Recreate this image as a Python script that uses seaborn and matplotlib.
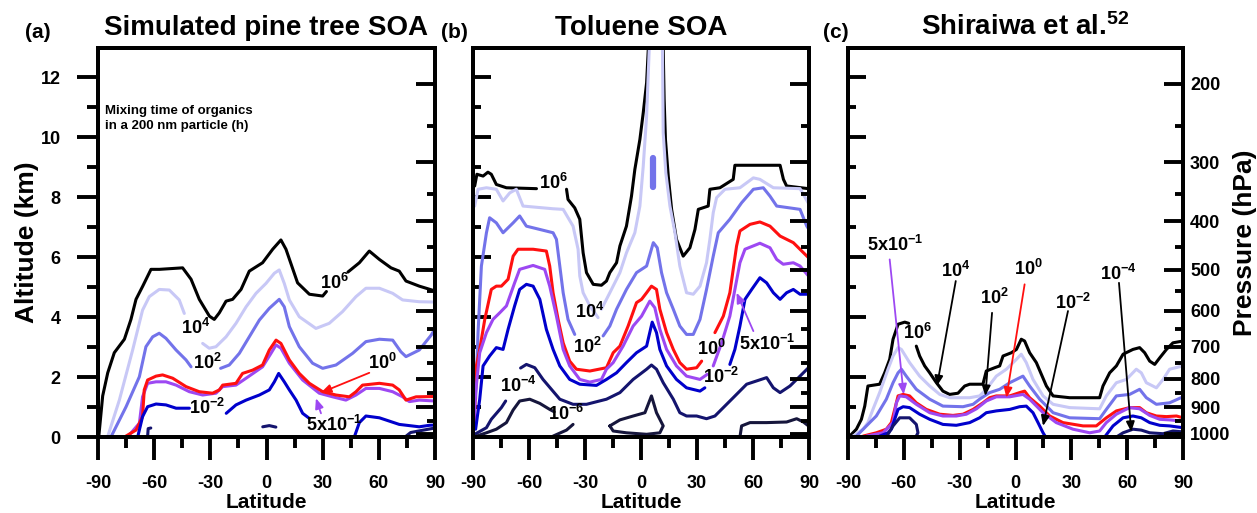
import numpy as np
import pandas as pd
import matplotlib
matplotlib.use("Agg")
import matplotlib.pyplot as plt
import seaborn as sns

# ---------------- data (latitude, altitude km) ----------------
LAT_TICKS = [-90, -60, -30, 0, 30, 60, 90]
LAT_MINOR = [-75, -45, -15, 15, 45, 75]
ALT_TICKS = [0, 2, 4, 6, 8, 10, 12]
ALT_MINOR = [1, 3, 5, 7, 9, 11]
P_MAJOR = [200, 300, 400, 500, 600, 700, 800, 900, 1000]
P_MINOR = [250, 350, 450, 550, 650, 750, 850, 950]

# Panel (a) Simulated pine tree SOA
A_E6 = [[(-89.6, 0), (-87.5, 1.37), (-84.8, 2.14), (-81.3, 2.81), (-75.9, 3.26), (-72.4, 3.92), (-69.7, 4.59),
         (-66.1, 5.03), (-61.7, 5.59), (-57.2, 5.59), (-44.8, 5.64), (-40.3, 5.26), (-35.9, 4.59), (-30.5, 4.03),
         (-27.9, 3.92), (-25.2, 4.14), (-21.6, 4.53), (-18.1, 4.59), (-13.6, 4.92), (-9.2, 5.53), (-2.1, 5.81),
         (3.3, 6.26), (7.7, 6.57), (10.4, 6.26), (16.6, 5.14), (22.9, 4.76), (30.0, 4.70), (32.0, 4.85)],
        [(43.5, 5.5), (49.6, 5.81), (54.9, 6.2), (60.3, 5.92), (66.5, 5.64), (70.9, 5.53), (74.5, 5.2),
         (81.6, 5.03), (90, 4.87)]]
A_E4 = [[(-84.9, 0), (-78.6, 1.23), (-71.5, 2.9), (-66.2, 4.23), (-62.6, 4.68), (-57.3, 4.92), (-51.9, 4.9),
         (-46.6, 4.57), (-43.9, 4.12)],
        [(-34.1, 3.12), (-30.6, 2.96), (-27, 3.01), (-21.6, 3.34), (-16.3, 3.79), (-10.9, 4.34), (-5.6, 4.79),
         (-0.3, 5.12), (4.2, 5.46), (6.8, 5.57), (9.5, 5.12), (12.2, 4.57), (17.5, 4.01), (26.4, 3.62),
         (33.5, 3.79), (40.6, 4.18), (47.8, 4.68), (53.1, 4.96), (60.3, 4.96), (67.4, 4.79), (72.7, 4.57),
         (81.6, 4.51), (90, 4.5)]]
A_E2 = [[(-83.1, 0), (-75, 1.01), (-67.9, 2.01), (-64.4, 3.01), (-60.8, 3.34), (-57.3, 3.46), (-53.7, 3.29),
         (-48.3, 2.9), (-43, 2.57), (-40.3, 2.34)],
        [(-24.5, 2.29), (-19.9, 2.4), (-14.5, 2.79), (-9.2, 3.34), (-3.8, 3.9), (1.5, 4.29), (6.8, 4.59),
         (9.5, 4.34), (12.2, 3.68), (17.5, 3.01), (24.6, 2.46), (30, 2.29), (37.1, 2.4), (46, 2.79),
         (53.1, 3.18), (60.3, 3.26), (67.4, 3.23), (71.8, 2.84), (74.5, 2.68), (81.6, 2.9), (88, 3.4), (90, 3.6)]]
A_E0 = [[(-75.9, 0), (-69.7, 0.23), (-66.2, 0.68), (-65.3, 1.57), (-63.5, 1.9), (-59, 2.03), (-55.5, 2.07),
         (-50.1, 1.96), (-43, 1.68), (-35.9, 1.51), (-28.8, 1.46), (-25.2, 1.57), (-23.4, 1.73), (-16.3, 1.79),
         (-12.8, 2.12), (-7.4, 2.23), (-2.1, 2.4), (1.5, 2.9), (5.1, 3.23), (7.7, 3.12), (12.2, 2.57),
         (17.5, 2.12), (22.9, 1.79), (30, 1.51), (37.1, 1.4), (44.2, 1.34), (47.8, 1.51), (51.3, 1.73),
         (60.3, 1.79), (67.4, 1.73), (70.9, 1.57), (74.5, 1.23), (79.9, 1.34), (90, 1.35)]]
A_E5M1 = [[(-74.2, 0), (-67.9, 0.46), (-66.2, 1.34), (-63.5, 1.79), (-59, 1.84), (-53.7, 1.84), (-48.3, 1.73),
           (-41.2, 1.51), (-34.1, 1.4), (-27, 1.46), (-23.4, 1.68), (-16.3, 1.73), (-10.9, 1.96), (-2.1, 2.34),
           (2.4, 2.79), (5.1, 3.07), (7.7, 2.96), (12.2, 2.46), (19.3, 1.9), (28.2, 1.46), (35.3, 1.34),
           (42.4, 1.23), (47.8, 1.4), (53.1, 1.62), (60.3, 1.62), (67.4, 1.51), (72.7, 1.34), (76.3, 1.18),
           (81.6, 1.23), (90, 1.2)]]
A_EM2 = [[(-68.8, 0), (-66.2, 0.68), (-63.5, 1.01), (-59, 1.1), (-53.7, 1.07), (-48.3, 0.96), (-41.2, 0.96)],
         [(-21.5, 0.79), (-16.3, 1.07), (-10.9, 1.23), (-3.8, 1.4), (1.5, 1.57), (4.2, 1.84), (6.5, 2.12),
          (9.5, 1.84), (12.2, 1.57), (15.8, 1.23), (19.3, 0.79), (22.9, 0.62)],
         [(46.9, 0), (49.6, 0.48), (53.1, 0.7), (60.3, 0.64), (70.9, 0.42), (81.6, 0.34), (87, 0.39), (90, 0.4)]]
A_EM4 = [[(-63.5, 0.02), (-63.2, 0.28), (-61.8, 0.3)],
         [(-2.0, 0.34), (1.5, 0.38), (5.0, 0.33)],
         [(74, 0.0), (77, 0.15), (83, 0.22), (90, 0.3)]]

# Panel (b) Toluene SOA
B_E6 = [[(-89.1, 8.37), (-87.9, 8.76), (-84.6, 8.7), (-82, 8.83), (-80.2, 8.76), (-77.5, 8.42), (-72.1, 8.31),
         (-56, 8.28)],
        [(-39.9, 8.26), (-39.1, 7.92), (-35.5, 7.64), (-32.8, 7.26), (-31, 6.14), (-29.2, 5.48), (-25.6, 5.09),
         (-21.2, 5.06), (-18.5, 5.2), (-16.7, 5.48), (-13.1, 5.81), (-11.3, 6.37), (-7.8, 7.03), (-5.1, 8.03),
         (-3.3, 8.92), (-0.6, 9.92), (1.2, 10.81), (3, 11.81), (3.9, 12.92), (4, 13.5)],
        [(11.9, 13.5), (11.9, 12.92), (12.4, 11.26), (13.1, 9.92), (14.6, 8.7), (16.4, 7.59), (19, 6.59),
         (22.6, 6.03), (26.2, 6.31), (28.9, 6.92), (30.7, 7.59), (36, 7.7), (36.9, 8.26), (42.3, 8.31),
         (49.4, 8.59), (50.3, 9.06), (74.5, 9.06), (76.3, 8.59), (78, 8.37), (89.7, 8.28), (90, 8.28)]]
B_E4 = [[(-89.1, 7.7), (-87.3, 8.26), (-82.8, 8.31), (-77.5, 8.26), (-73.9, 7.87), (-70.3, 8.14), (-66.8, 8.26),
         (-63.2, 7.7), (-47.1, 7.61), (-41.7, 7.59), (-36.4, 7.03), (-33.7, 6.26), (-32.8, 5.37), (-31, 4.81),
         (-27.4, 4.37), (-23, 3.98)],
        [(-21.2, 4.26), (-16.7, 4.81), (-11.3, 5.48), (-7.8, 6.14), (-3.3, 6.81), (-0.6, 7.7), (1.2, 9.03),
         (3, 10.7), (4.4, 12.92), (4.5, 13.5)],
        [(11.5, 13.5), (11.5, 12.92), (11.9, 10.14), (13.3, 8.81), (15.5, 7.7), (18.2, 6.81), (20.8, 5.7),
         (24.4, 4.81), (28, 4.76), (31.6, 5.03), (35.1, 5.81), (36.9, 6.59), (38.7, 7.48), (40.5, 7.98),
         (45, 8.26), (53, 8.31), (60.2, 8.64), (63.7, 8.59), (70.9, 8.31), (85.2, 8.28), (89.7, 7.79), (90, 7.75)]]
B_E2 = [[(-88.6, 1.26), (-87.3, 3.48), (-85.5, 5.7), (-82.8, 6.81), (-81.1, 7.31), (-77.5, 7.14), (-73.9, 6.81),
         (-68.5, 7.14), (-65, 7.37), (-61.4, 7.03), (-54.2, 6.92), (-47.1, 6.81), (-45.3, 6.59), (-43.5, 5.7),
         (-41.7, 4.81), (-39.1, 3.92), (-35.5, 3.42)],
        [(-20.3, 3.37), (-16.7, 3.7), (-13.1, 4.26), (-7.8, 4.92), (-2.4, 5.48), (3, 5.7), (6.6, 6.48),
         (8.7, 6.31), (11, 5.48), (13.7, 4.81), (17.3, 4.26), (20.8, 3.7), (24.4, 3.42), (28, 3.42),
         (31.6, 3.92), (35.1, 4.92), (38.7, 6.03), (41.4, 6.81), (47.6, 7.26), (53.9, 7.81), (60.2, 8.26),
         (65.5, 8.31), (69.1, 8.03), (72.7, 7.7), (85.2, 7.59), (88.8, 7.03), (90, 6.92)]]
B_E2_BLOB = [[(6.4, 8.35), (6.4, 9.3)]]
B_E0 = [[(-89.5, 0.3), (-89.1, 0.81), (-88.2, 2.37), (-86.4, 2.92), (-83.7, 3.92), (-80.2, 4.92), (-77.5, 5.03),
         (-74.8, 5.03), (-71.2, 5.26), (-68.5, 6.03), (-65.9, 6.26), (-57.8, 6.26), (-50.7, 6.2), (-48.9, 5.7),
         (-47.1, 4.81), (-44.4, 3.92), (-41.7, 3.14), (-38.2, 2.53), (-34.6, 2.26), (-27.4, 2.2), (-18.5, 2.31),
         (-14.9, 2.81), (-11.3, 3.03), (-6.9, 3.7), (-2.4, 4.48), (0.3, 4.59), (3, 4.81), (5.6, 5.03),
         (8.3, 4.92), (10.1, 4.26), (13.7, 3.48), (17.3, 2.92), (20.8, 2.48), (24.4, 2.26), (29.8, 2.31),
         (32.5, 2.53)],
        [(39.6, 3.48), (44.1, 4.03), (47.6, 4.81), (51.2, 6.37), (53, 6.87), (58.4, 7.09), (63.7, 7.17),
         (69.1, 7.03), (74.5, 6.7), (81.6, 6.48), (89.7, 5.98), (90, 5.95)]]
B_E5M1 = [[(-89.5, 0.5), (-88.6, 1.48), (-86.4, 2.81), (-82.8, 3.48), (-79.3, 3.92), (-75.7, 4.14), (-72.1, 4.37),
           (-67.7, 5.14), (-65, 5.59), (-57.8, 5.72), (-51.6, 5.59), (-48.9, 5.03), (-45.3, 4.03), (-41.7, 2.92),
           (-38.2, 2.37), (-32.8, 1.92), (-27.4, 1.83), (-21.2, 1.92), (-18.5, 2.26), (-14.9, 2.48), (-9.6, 3.03),
           (-4.2, 3.7), (0.3, 4.03), (4.7, 4.53), (7.4, 4.31), (10.1, 3.59), (13.7, 2.92), (19, 2.37),
           (24.4, 2.03), (31.6, 1.92), (35.5, 2.09)],
          [(38.7, 2.37), (43.2, 3.14), (47.6, 4.03), (50.3, 4.92), (53, 5.81), (55.7, 6.26), (63.7, 6.46),
           (69.1, 6.31), (72.7, 5.92), (76.2, 5.76), (81.6, 5.81), (85.2, 5.7), (89.7, 5.37), (90, 5.35)]]
B_EM2 = [[(-88.6, 0.26), (-86.4, 1.26), (-84.6, 2.37), (-81.1, 2.7), (-77.5, 2.98), (-73.9, 2.92), (-71.2, 3.59),
          (-67.7, 4.37), (-65, 4.92), (-61.4, 5.09), (-57.8, 5.03), (-54.2, 4.59), (-50.7, 3.59), (-47.1, 2.92),
          (-43.5, 2.37), (-38.2, 1.92), (-32.8, 1.76), (-23.9, 1.72), (-18.5, 1.92), (-13.1, 2.14), (-7.8, 2.48),
          (-2.4, 2.81), (3, 3.03), (6, 3.83), (8.3, 3.48), (10.1, 2.92), (13.7, 2.37), (19, 1.92), (24.4, 1.64),
          (31.6, 1.53), (34.2, 1.64)],
         [(47.6, 2.42), (50.3, 2.92), (53, 3.7), (55.7, 4.59), (59.3, 4.92), (63.7, 5.31), (67.3, 5.14),
          (70.9, 4.81), (74.5, 4.59), (78, 4.81), (81.6, 4.92), (85.2, 4.76), (90, 4.76)]]
B_EM4 = [[(-89.1, 0.09), (-82.8, 0.31), (-80.2, 0.59), (-74.8, 0.98), (-72.5, 1.2)],
         [(-64.5, 2.3), (-61.4, 2.42), (-56.9, 2.31), (-52.5, 1.92), (-48, 1.59), (-43.5, 1.26), (-36.4, 1.09),
          (-29.2, 1.09), (-18.5, 1.26), (-11.3, 1.48), (-4.2, 1.92), (3, 2.26), (5.6, 2.4), (8.3, 2.26),
          (11.9, 1.81), (17.3, 1.26), (20.8, 0.81), (24.4, 0.7), (29.8, 0.7), (35.1, 0.61), (39.6, 0.7),
          (49.4, 1.31), (56.6, 1.76), (67.3, 1.98), (70.9, 1.64), (74.5, 1.48), (79.8, 1.7), (85.2, 2.03),
          (89.7, 2.31), (90, 2.33)]]
B_EM6 = [[(-88.2, 0.03), (-82.8, 0.14), (-77.5, 0.26), (-72.1, 0.48), (-68.5, 0.9), (-65, 1.2), (-59.6, 1.26),
          (-54.2, 1.12), (-48.9, 0.92), (-46.5, 0.84)],
         [(-36.4, 0.42), (-39.9, 0.23), (-47.1, 0.03)],
         [(-16.7, 0.37), (-11.3, 0.57), (-4.2, 0.7), (2.1, 0.81), (5.6, 1.37), (8.3, 0.81), (11.9, 0.37),
          (10.1, 0.14), (3, 0.09), (-7.8, 0.14), (-14.9, 0.2), (-16.7, 0.37)],
         [(53, 0), (53.9, 0.37), (58.4, 0.48), (67.3, 0.48), (78, 0.5), (83.4, 0.61), (87, 0.5), (89.7, 0.37),
          (90, 0.36)]]

# Panel (c) Shiraiwa et al.
C_E6 = [[(-89.1, 0.03), (-85.5, 0.26), (-82.8, 0.59), (-81, 1.03), (-79.3, 1.7), (-73, 1.76), (-70.3, 2.14),
         (-67.6, 2.59), (-65.8, 3.26), (-63.1, 3.76), (-59.5, 3.83), (-57.4, 3.79)],
        [(-53.3, 3.03), (-51.5, 2.7), (-48.8, 2.37), (-46.1, 2.14), (-42.5, 1.81), (-39, 1.53), (-35.4, 1.42),
         (-30.9, 1.46), (-27.3, 1.7), (-24.6, 1.76), (-17.5, 1.76), (-15.7, 2.2), (-11.2, 2.31), (-8.5, 2.37),
         (-6.7, 2.7), (-2.2, 2.81), (0.5, 2.92), (3.1, 3.26), (4.9, 3.2), (7.6, 2.81), (11.2, 2.48), (16.6, 1.7),
         (20.2, 1.37), (29.1, 1.31), (45.2, 1.31), (47, 1.7), (50.6, 2.14), (54.2, 2.37), (57.8, 2.76),
         (63.1, 2.92), (66.7, 2.98), (69.4, 2.81), (72.1, 2.53), (74.8, 2.42), (77.5, 2.64), (81.1, 2.92),
         (84.6, 3.14), (90, 3.2)]]
C_E4 = [[(-87.3, 0.03), (-81.9, 0.26), (-79.3, 0.48), (-76.6, 0.92), (-73, 1.48), (-68.5, 2.26), (-65.8, 2.7),
         (-63.1, 2.98), (-61.3, 2.92), (-56.9, 2.48), (-51.5, 2.03), (-46.1, 1.7), (-40.7, 1.42), (-35.4, 1.31),
         (-24.6, 1.31), (-19.3, 1.37), (-15.7, 1.59), (-10.3, 2.03), (-4.9, 2.26), (0.5, 2.59), (3.1, 2.76),
         (5.8, 2.48), (9.4, 1.92), (14.8, 1.37), (20.2, 1.09), (29.1, 0.98), (45.2, 0.94), (48.8, 1.37),
         (54.2, 1.81), (59.6, 1.92), (64.9, 2.26), (67.6, 2.14), (70.3, 1.81), (75.7, 1.64), (79.3, 1.92),
         (82.8, 2.26), (90, 2.37)]]
C_E2 = [[(-85.5, 0.03), (-80.1, 0.37), (-74.8, 0.7), (-69.4, 1.26), (-65.8, 1.81), (-63.1, 2.14), (-61.3, 2.26),
         (-58.7, 2.03), (-53.3, 1.59), (-46.1, 1.26), (-39, 1.03), (-28.2, 1.01), (-22.8, 1.09), (-19.3, 1.26),
         (-13.9, 1.48), (-8.5, 1.59), (-3.1, 1.81), (0.5, 1.92), (4, 2.03), (7.6, 1.7), (13, 1.26), (20.2, 0.81),
         (29.1, 0.64), (45.2, 0.61), (48.8, 0.92), (54.2, 1.37), (61.3, 1.42), (66.7, 1.59), (70.3, 1.31),
         (75.7, 1.09), (82.8, 1.14), (90, 1.34)]]
C_E0 = [[(-81.9, 0.03), (-74.8, 0.14), (-69.4, 0.26), (-66.7, 0.48), (-64.9, 0.92), (-63.1, 1.37), (-60.4, 1.42),
         (-56.9, 1.37), (-53.3, 1.14), (-47.9, 0.92), (-40.7, 0.76), (-33.6, 0.72), (-28.2, 0.76), (-22.8, 0.92),
         (-17.5, 1.14), (-13.9, 1.31), (-10.3, 1.37), (-3.1, 1.37), (2.2, 1.48), (4.9, 1.53), (7.6, 1.31),
         (13, 1.03), (18.4, 0.7), (25.5, 0.48), (36.3, 0.37), (43.4, 0.37), (48.8, 0.64), (54.2, 0.87),
         (61.3, 0.98), (66.7, 0.98), (70.3, 0.81), (75.7, 0.7), (81.1, 0.68), (86.5, 0.7), (90, 0.64)]]
C_E5M1 = [[(-80.1, 0.03), (-71.2, 0.14), (-65.8, 0.48), (-64, 1.14), (-62.2, 1.37), (-58.7, 1.34), (-53.3, 1.09),
           (-46.1, 0.81), (-39, 0.7), (-31.8, 0.7), (-26.4, 0.76), (-21, 0.94), (-15.7, 1.2), (-10.3, 1.34),
           (-3.1, 1.34), (4, 1.42), (7.6, 1.26), (14.8, 0.81), (21.9, 0.48), (30.9, 0.26), (39.9, 0.14),
           (45.2, 0.2), (48.8, 0.48), (54.2, 0.76), (61.3, 0.98), (66.7, 0.94), (72.1, 0.72), (77.5, 0.59),
           (82.8, 0.57), (90, 0.53)]]
C_EM2 = [[(-73, 0.03), (-68.5, 0.14), (-66.7, 0.26), (-64.9, 0.59), (-63.1, 0.92), (-60.4, 1.01), (-56.9, 0.98),
          (-51.5, 0.76), (-46.1, 0.59), (-39, 0.42), (-31.8, 0.39), (-24.6, 0.48), (-19.3, 0.64), (-15.7, 0.81),
          (-10.3, 0.87), (-3.1, 0.92), (2.2, 1.01), (5.8, 1.03), (9.4, 0.81), (12.1, 0.48), (14.8, 0.14),
          (16.2, 0)],
         [(47.9, 0), (52.4, 0.37), (57.8, 0.64), (63.1, 0.7), (67.6, 0.64), (72.1, 0.48), (77.5, 0.39),
          (82.8, 0.37), (90, 0.31)]]
C_EM4 = [[(-69.4, 0), (-65.8, 0.37), (-62.2, 0.64), (-56.9, 0.64), (-53.3, 0.42), (-52.4, 0.14), (-53.6, 0)],
         [(54.2, 0), (57.8, 0.14), (63.1, 0.26), (67.6, 0.23), (72.1, 0.14), (79.3, 0.11), (84.6, 0.2), (90, 0.17)]]

# contour labels: (text, lat, alt)
A_LABELS = [(r"$10^{6}$", 36.5, 5.14), (r"$10^{4}$", -38.0, 3.62), (r"$10^{2}$", -31.4, 2.47),
            (r"$10^{0}$", 62.0, 2.46), (r"$10^{-2}$", -31.5, 0.98), (r"5x$10^{-1}$", 36.2, 0.40)]
B_LABELS = [(r"$10^{6}$", -47.1, 8.48), (r"$10^{4}$", -27.8, 4.17), (r"$10^{2}$", -28.7, 2.99),
            (r"$10^{0}$", 37.8, 2.94), (r"5x$10^{-1}$", 67.4, 3.09), (r"$10^{-2}$", 43.0, 2.01),
            (r"$10^{-4}$", -65.9, 1.70), (r"$10^{-6}$", -39.9, 0.76)]
C_LABELS = [(r"5x$10^{-1}$", -64.7, 6.40), (r"$10^{4}$", -32.0, 5.53), (r"$10^{0}$", 6.7, 5.59),
            (r"$10^{2}$", -11.5, 4.64), (r"$10^{-2}$", 30.7, 4.48), (r"$10^{-4}$", 55.4, 5.42),
            (r"$10^{6}$", -52.7, 3.47)]
# arrows: (tail lat, tail alt, head lat, head alt, colour key)
A_ARROWS = [(54.9, 2.14, 29.1, 1.48, "E0"), (29.1, 0.79, 26.4, 1.29, "E5M1")]
B_ARROWS = [(60.2, 3.53, 51.2, 4.81, "E5M1")]
C_ARROWS = [(-67.6, 5.92, -60.1, 1.42, "E5M1"), (-32.1, 5.2, -42.2, 1.7, "E6"), (-12.6, 4.14, -16.2, 1.37, "E6"),
            (4.9, 5.09, -4.9, 1.31, "E0"), (28.2, 4.2, 14.8, 0.37, "E6"), (55.6, 5.14, 62.2, 0.17, "E6")]

COLORS = {"E6": "#000000", "E4": "#c8c8f6", "E2": "#7373ea", "E0": "#ff1010", "E5M1": "#9d48f2",
          "EM2": "#0000cc", "EM4": "#14146e", "EM6": "#16163c"}

PANELS = [
    dict(tag="(a)", title="Simulated pine tree SOA", title_x=0.5,
         levels=[("E6", A_E6), ("E4", A_E4), ("E2", A_E2), ("E5M1", A_E5M1), ("E0", A_E0), ("EM2", A_EM2),
                 ("EM4", A_EM4)], labels=A_LABELS, arrows=A_ARROWS),
    dict(tag="(b)", title="Toluene SOA", title_x=0.5,
         levels=[("E6", B_E6), ("E4", B_E4), ("E2", B_E2), ("E0", B_E0), ("E5M1", B_E5M1), ("EM2", B_EM2),
                 ("EM4", B_EM4), ("EM6", B_EM6)], labels=B_LABELS, arrows=B_ARROWS),
    dict(tag="(c)", title=r"Shiraiwa et al.$^{52}$", title_x=0.53,
         levels=[("E6", C_E6), ("E4", C_E4), ("E2", C_E2), ("E0", C_E0), ("E5M1", C_E5M1), ("EM2", C_EM2),
                 ("EM4", C_EM4)], labels=C_LABELS, arrows=C_ARROWS),
]


def to_frame(levels):
    rows = []
    for lev, segs in levels:
        for i, seg in enumerate(segs):
            for lat, alt in seg:
                rows.append((lev, f"{lev}_{i}", lat, alt))
    return pd.DataFrame(rows, columns=["level", "seg", "lat", "alt"])


def p2alt(p):
    return 44.3308 * (1 - (np.asarray(p, dtype=float) / 1013.25) ** 0.190263)


# ---------------- style ----------------
sns.set_style("ticks")
plt.rcParams["font.family"] = ["Liberation Sans", "DejaVu Sans"]
plt.rcParams["font.weight"] = "bold"
plt.rcParams["mathtext.fontset"] = "custom"
plt.rcParams["mathtext.rm"] = "Liberation Sans:bold"
plt.rcParams["mathtext.bf"] = "Liberation Sans:bold"
plt.rcParams["mathtext.it"] = "Liberation Sans:bold:italic"
plt.rcParams["mathtext.default"] = "rm"
plt.rcParams["axes.edgecolor"] = "black"
plt.rcParams["xtick.color"] = "black"
plt.rcParams["ytick.color"] = "black"
plt.rcParams["text.color"] = "black"
plt.rcParams["axes.labelcolor"] = "black"

W, H = 1257, 513
fig = plt.figure(figsize=(W / 100, H / 100), dpi=100)
lefts = [98, 473, 848]
widths = [337, 336, 335]
YTOP = 12.97
LW = 2.2
SPW = 2.8

for k, (pan, lpx, wpx) in enumerate(zip(PANELS, lefts, widths)):
    ax = fig.add_axes([lpx / W, 1 - 437 / H, wpx / W, (437 - 48) / H])
    df = to_frame(pan["levels"])
    for lev, _ in pan["levels"]:
        sub = df[df["level"] == lev]
        sns.lineplot(data=sub, x="lat", y="alt", units="seg", estimator=None, sort=False,
                     color=COLORS[lev], lw=LW, ax=ax, legend=False)
    if k == 1:
        blob = to_frame([("E2", B_E2_BLOB)])
        sns.lineplot(data=blob, x="lat", y="alt", units="seg", estimator=None, sort=False,
                     color=COLORS["E2"], lw=4.5, ax=ax, legend=False)
    for txt, la, al in pan["labels"]:
        ax.text(la, al, txt, ha="center", va="center", fontsize=13, fontweight="bold", zorder=5)
    for tla, tal, hla, hal, ck in pan["arrows"]:
        ax.annotate("", xy=(hla, hal), xytext=(tla, tal),
                    arrowprops=dict(arrowstyle="-|>,head_length=0.6,head_width=0.25", color=COLORS[ck],
                                    lw=1.3, shrinkA=0, shrinkB=0), zorder=6)

    ax.set_xlim(-90, 90)
    ax.set_ylim(0, YTOP)
    ax.set_xticks(LAT_TICKS, labels=[str(v) for v in LAT_TICKS])
    ax.set_xticks(LAT_MINOR, minor=True)
    ax.tick_params(axis="x", which="major", direction="out", length=16.5, width=SPW, pad=10.5, labelsize=13)
    ax.tick_params(axis="x", which="minor", direction="out", length=8, width=SPW)
    ax.set_yticks(ALT_TICKS, labels=[str(v) for v in ALT_TICKS])
    ax.set_yticks(ALT_MINOR, minor=True)
    if k == 0:
        ax.tick_params(axis="y", which="major", direction="out", length=15, width=SPW, pad=12, labelsize=13)
        ax.tick_params(axis="y", which="minor", direction="out", length=8, width=SPW)
        ax.set_ylabel("Altitude (km)", fontsize=19, fontweight="bold", labelpad=1)
        ax.text(-86.2, 10.62, "Mixing time of organics\nin a 200 nm particle (h)", fontsize=9.5,
                fontweight="bold", va="center", ha="left", linespacing=1.35)
    else:
        ax.tick_params(axis="y", which="major", direction="in", length=13, width=SPW, labelleft=False)
        ax.tick_params(axis="y", which="minor", direction="in", length=6, width=SPW)
        ax.set_ylabel("")
    ax.set_xlabel("Latitude", fontsize=15, fontweight="bold", labelpad=1)
    for sp in ax.spines.values():
        sp.set_linewidth(SPW)
        sp.set_visible(True)
    ax.set_title(pan["title"], fontsize=20, fontweight="bold", pad=9.5, x=pan["title_x"])
    tagx = {0: 38, 1: 454, 2: 836}[k]
    fig.text(tagx / W, 1 - 33 / H, pan["tag"], ha="center", va="center", fontsize=15, fontweight="bold")

    ax2 = ax.twinx()
    ax2.set_ylim(0, YTOP)
    ax2.set_yticks(p2alt(P_MAJOR), labels=[str(p) for p in P_MAJOR])
    ax2.set_yticks(p2alt(P_MINOR), minor=True)
    ax2.tick_params(axis="y", which="major", direction="in", length=14, width=SPW, pad=5, labelsize=13)
    ax2.tick_params(axis="y", which="minor", direction="in", length=6, width=SPW)
    for sp in ax2.spines.values():
        sp.set_linewidth(SPW)
    if k == 2:
        ax2.set_ylabel("Pressure (hPa)", fontsize=19, fontweight="bold", labelpad=2)
    else:
        ax2.tick_params(axis="y", labelright=False)

fig.savefig("out.png", dpi=100)
